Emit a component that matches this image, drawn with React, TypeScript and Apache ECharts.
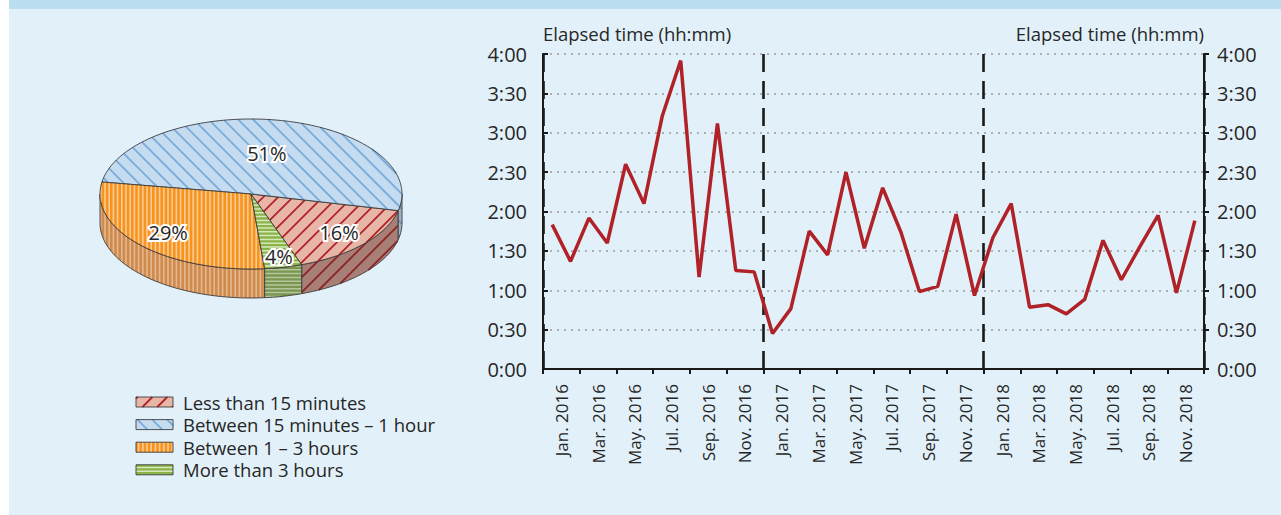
import React, { useEffect, useRef } from 'react';
import * as echarts from 'echarts';

// ---------------- data ----------------
const MONTHS = [
  'Jan. 2016', 'Feb. 2016', 'Mar. 2016', 'Apr. 2016', 'May. 2016', 'Jun. 2016',
  'Jul. 2016', 'Aug. 2016', 'Sep. 2016', 'Oct. 2016', 'Nov. 2016', 'Dec. 2016',
  'Jan. 2017', 'Feb. 2017', 'Mar. 2017', 'Apr. 2017', 'May. 2017', 'Jun. 2017',
  'Jul. 2017', 'Aug. 2017', 'Sep. 2017', 'Oct. 2017', 'Nov. 2017', 'Dec. 2017',
  'Jan. 2018', 'Feb. 2018', 'Mar. 2018', 'Apr. 2018', 'May. 2018', 'Jun. 2018',
  'Jul. 2018', 'Aug. 2018', 'Sep. 2018', 'Oct. 2018', 'Nov. 2018', 'Dec. 2018',
];
const TICK_LABELS = MONTHS.filter((_, i) => i % 2 === 0);
const YEARS = ['2016', '2017', '2018'];
// elapsed time in minutes
const ELAPSED_MINUTES = [
  110, 82, 115, 96, 156, 126, 193, 235, 70, 187, 75, 74,
  27, 46, 105, 87, 150, 92, 138, 104, 59, 63, 118, 56,
  100, 126, 47, 49, 42, 53, 98, 68, 93, 117, 58, 113,
];
const Y_TICKS_MAX = 240;
const Y_TICK_STEP = 30;

const PIE_NAMES = [
  'Less than 15 minutes',
  'Between 15 minutes \u2013 1 hour',
  'Between 1 \u2013 3 hours',
  'More than 3 hours',
];
const PIE_VALUES = [16, 51, 29, 4];

// ---------------- style / layout ----------------
const FONT = '"Open Sans", "Noto Sans", sans-serif';
const TXT = '#262626';
const OUTLINE = '#3c3c3c';

const CX = 251, CY = 194, RX = 151, RY = 75, DEPTH = 29, START_ANGLE = 289.6;
const LABEL_RADIUS = [0.78, 0.55, 0.75, 0.86];
const LEG_X = 136, LEG_Y0 = 402, LEG_DY = 22.6, LEG_W = 37, LEG_H = 10;

type Pt = [number, number];
type Hatch = { color: string; angle: number; spacing: number; width: number };
const SLICE_STYLES: { top: string; side: string; topHatch: Hatch; sideHatch: Hatch }[] = [
  {
    top: '#E8B6A6', side: '#A87F77',
    topHatch: { color: '#B2232B', angle: -45, spacing: 10.5, width: 1.8 },
    sideHatch: { color: '#8B2526', angle: -45, spacing: 10.5, width: 1.8 },
  },
  {
    top: '#C4DBF0', side: '#9DB3C8',
    topHatch: { color: '#79ACDA', angle: 45, spacing: 10.5, width: 1.8 },
    sideHatch: { color: '#6F94B8', angle: 45, spacing: 10.5, width: 1.8 },
  },
  {
    top: '#F7941E', side: '#CF8A4E',
    topHatch: { color: '#FCCB95', angle: 90, spacing: 4.2, width: 1.6 },
    sideHatch: { color: '#E6B88F', angle: 90, spacing: 4.2, width: 1.6 },
  },
  {
    top: '#8AB446', side: '#7A9650',
    topHatch: { color: '#D6E7BE', angle: 0, spacing: 3.8, width: 1.5 },
    sideHatch: { color: '#B5C69D', angle: 0, spacing: 3.8, width: 1.5 },
  },
];

function hatchSegments(poly: Pt[], angleDeg: number, spacing: number): [Pt, Pt][] {
  const a = (angleDeg * Math.PI) / 180;
  const u: Pt = [Math.cos(a), Math.sin(a)];
  const n: Pt = [-u[1], u[0]];
  let min = Infinity, max = -Infinity;
  for (const p of poly) {
    const d = p[0] * n[0] + p[1] * n[1];
    if (d < min) min = d;
    if (d > max) max = d;
  }
  const segs: [Pt, Pt][] = [];
  for (let c = Math.ceil(min / spacing) * spacing; c <= max; c += spacing) {
    const ts: number[] = [];
    for (let i = 0; i < poly.length; i++) {
      const p = poly[i], q = poly[(i + 1) % poly.length];
      const dp = p[0] * n[0] + p[1] * n[1] - c;
      const dq = q[0] * n[0] + q[1] * n[1] - c;
      if ((dp < 0) !== (dq < 0)) {
        const t = dp / (dp - dq);
        const x = p[0] + (q[0] - p[0]) * t, y = p[1] + (q[1] - p[1]) * t;
        ts.push(x * u[0] + y * u[1]);
      }
    }
    ts.sort((x, y) => x - y);
    for (let k = 0; k + 1 < ts.length; k += 2) {
      segs.push([
        [c * n[0] + ts[k] * u[0], c * n[1] + ts[k] * u[1]],
        [c * n[0] + ts[k + 1] * u[0], c * n[1] + ts[k + 1] * u[1]],
      ]);
    }
  }
  return segs;
}

function shapeWithHatch(poly: Pt[], fill: string, h: Hatch): any[] {
  const out: any[] = [
    { type: 'polygon', shape: { points: poly }, style: { fill, stroke: 'none' } },
  ];
  const segs = hatchSegments(poly, h.angle, h.spacing);
  if (segs.length) {
    const d = segs
      .map(([p, q]) => `M${p[0].toFixed(2)} ${p[1].toFixed(2)}L${q[0].toFixed(2)} ${q[1].toFixed(2)}`)
      .join('');
    out.push({ type: 'path', shape: { pathData: d }, style: { fill: 'none', stroke: h.color, lineWidth: h.width } });
  }
  out.push({ type: 'polygon', shape: { points: poly }, style: { fill: 'none', stroke: OUTLINE, lineWidth: 0.9 } });
  return out;
}

function ePt(deg: number, h = 0): Pt {
  const r = (deg * Math.PI) / 180;
  return [CX + RX * Math.cos(r), CY - RY * Math.sin(r) + h];
}
function arcPts(s: number, e: number, h = 0): Pt[] {
  const n = Math.max(2, Math.ceil((e - s) / 1.5));
  const out: Pt[] = [];
  for (let k = 0; k <= n; k++) out.push(ePt(s + ((e - s) * k) / n, h));
  return out;
}
function frontRanges(s: number, e: number): [number, number][] {
  const res: [number, number][] = [];
  for (const base of [-360, 0, 360]) {
    const lo = Math.max(s, 180 + base), hi = Math.min(e, 360 + base);
    if (hi - lo > 0.01) res.push([lo, hi]);
  }
  return res;
}

const fmtTime = (v: number) => `${Math.floor(v / 60)}:${String(Math.round(v % 60)).padStart(2, '0')}`;

export default function App() {
  const ref = useRef<HTMLDivElement>(null);
  useEffect(() => {
    if (!ref.current) return;
    const chart = echarts.init(ref.current, undefined, { renderer: 'svg' });
    const total = PIE_VALUES.reduce((a, b) => a + b, 0);
    const starts: number[] = [];
    let acc = START_ANGLE;
    PIE_VALUES.forEach((v) => { starts.push(acc); acc += (v / total) * 360; });

    const axisLineStyle = { color: '#1a1a1a', width: 2 };

    const option: any = {
      animation: false,
      backgroundColor: '#E2F1F9',
      graphic: [
        { type: 'rect', left: 0, top: 0, shape: { width: 9, height: 515 }, style: { fill: '#ffffff' }, silent: true },
        { type: 'rect', left: 9, top: 0, shape: { width: 1272, height: 9 }, style: { fill: '#BBDFF1' }, silent: true },
      ],
      grid: { left: 543, right: 77, top: 54, bottom: 146 },
      xAxis: [
        {
          type: 'category', data: MONTHS, boundaryGap: true,
          axisLine: { show: true, lineStyle: axisLineStyle },
          axisTick: { show: false }, axisLabel: { show: false }, splitLine: { show: false },
        },
        {
          type: 'category', data: TICK_LABELS, boundaryGap: true, position: 'bottom',
          axisLine: { show: false },
          axisTick: { show: true, length: 5, interval: 0, lineStyle: axisLineStyle },
          axisLabel: { show: true, interval: 0, rotate: 90, margin: 15, fontSize: 17, color: TXT, fontFamily: FONT },
          splitLine: { show: false },
        },
        {
          type: 'category', data: YEARS, boundaryGap: true, position: 'bottom',
          axisLine: { show: false }, axisTick: { show: false }, axisLabel: { show: false },
          splitLine: { show: true, interval: 0, lineStyle: { color: '#1a1a1a', width: 2.6, type: [18, 9] } },
        },
      ],
      yAxis: [
        {
          type: 'value', min: 0, max: Y_TICKS_MAX, interval: Y_TICK_STEP, position: 'left',
          name: 'Elapsed time (hh:mm)', nameLocation: 'end', nameGap: 11,
          nameTextStyle: { align: 'left', verticalAlign: 'bottom', fontSize: 18.5, color: TXT, fontFamily: FONT },
          axisLine: { show: true, lineStyle: axisLineStyle },
          axisTick: { show: true, inside: true, length: 5, lineStyle: axisLineStyle },
          axisLabel: { formatter: fmtTime, fontSize: 20, color: TXT, fontFamily: FONT, margin: 16 },
          splitLine: { show: true, lineStyle: { color: '#9a9a9a', width: 1.5, type: [2, 5] } },
        },
        {
          type: 'value', min: 0, max: Y_TICKS_MAX, interval: Y_TICK_STEP, position: 'right',
          name: 'Elapsed time (hh:mm)', nameLocation: 'end', nameGap: 11,
          nameTextStyle: { align: 'right', verticalAlign: 'bottom', fontSize: 18.5, color: TXT, fontFamily: FONT },
          axisLine: { show: true, lineStyle: axisLineStyle },
          axisTick: { show: true, inside: false, length: 5, lineStyle: axisLineStyle },
          axisLabel: { formatter: fmtTime, fontSize: 20, color: TXT, fontFamily: FONT, margin: 13 },
          splitLine: { show: false },
        },
      ],
      series: [
        {
          type: 'line', xAxisIndex: 0, yAxisIndex: 0, data: ELAPSED_MINUTES,
          symbol: 'none', lineStyle: { color: '#B12128', width: 3.5 }, z: 5,
        },
        {
          type: 'custom', coordinateSystem: 'none', silent: true,
          data: PIE_VALUES.map((v, i) => ({ name: PIE_NAMES[i], value: [v] })),
          renderItem: (params: any, api: any) => {
            const i = params.dataIndex;
            const v = api.value(0);
            const s = starts[i], e = s + (v / total) * 360;
            const st = SLICE_STYLES[i];
            const children: any[] = [];
            for (const [lo, hi] of frontRanges(s, e)) {
              const poly: Pt[] = [...arcPts(lo, hi, 0), ...arcPts(lo, hi, DEPTH).reverse()];
              children.push(...shapeWithHatch(poly, st.side, st.sideHatch));
            }
            const topPoly: Pt[] = [[CX, CY], ...arcPts(s, e, 0)];
            children.push(...shapeWithHatch(topPoly, st.top, st.topHatch));
            const mid = ((s + e) / 2) * Math.PI / 180;
            const f = LABEL_RADIUS[i];
            children.push({
              type: 'text', z2: 100,
              x: CX + RX * f * Math.cos(mid), y: CY - RY * f * Math.sin(mid),
              style: {
                text: `${Math.round((v / total) * 100)}%`, fontSize: 20, fontFamily: FONT,
                fill: TXT, stroke: '#ffffff', lineWidth: 4, align: 'center', verticalAlign: 'middle',
              },
            });
            return { type: 'group', children };
          },
        },
        {
          type: 'custom', coordinateSystem: 'none', silent: true,
          data: PIE_VALUES.map((v, i) => ({ name: PIE_NAMES[i], value: [v] })),
          renderItem: (params: any) => {
            const i = params.dataIndex;
            const st = SLICE_STYLES[i];
            const y = LEG_Y0 + i * LEG_DY;
            const rect: Pt[] = [
              [LEG_X, y - LEG_H / 2], [LEG_X + LEG_W, y - LEG_H / 2],
              [LEG_X + LEG_W, y + LEG_H / 2], [LEG_X, y + LEG_H / 2],
            ];
            return {
              type: 'group',
              children: [
                ...shapeWithHatch(rect, st.top, st.topHatch),
                {
                  type: 'text', x: LEG_X + LEG_W + 10, y,
                  style: { text: PIE_NAMES[i], fontSize: 18.5, fontFamily: FONT, fill: TXT, align: 'left', verticalAlign: 'middle' },
                },
              ],
            };
          },
        },
      ],
    };
    chart.setOption(option);
    return () => chart.dispose();
  }, []);
  return <div ref={ref} style={{ position: 'absolute', left: 0, top: 0, width: 1281, height: 515 }} />;
}
